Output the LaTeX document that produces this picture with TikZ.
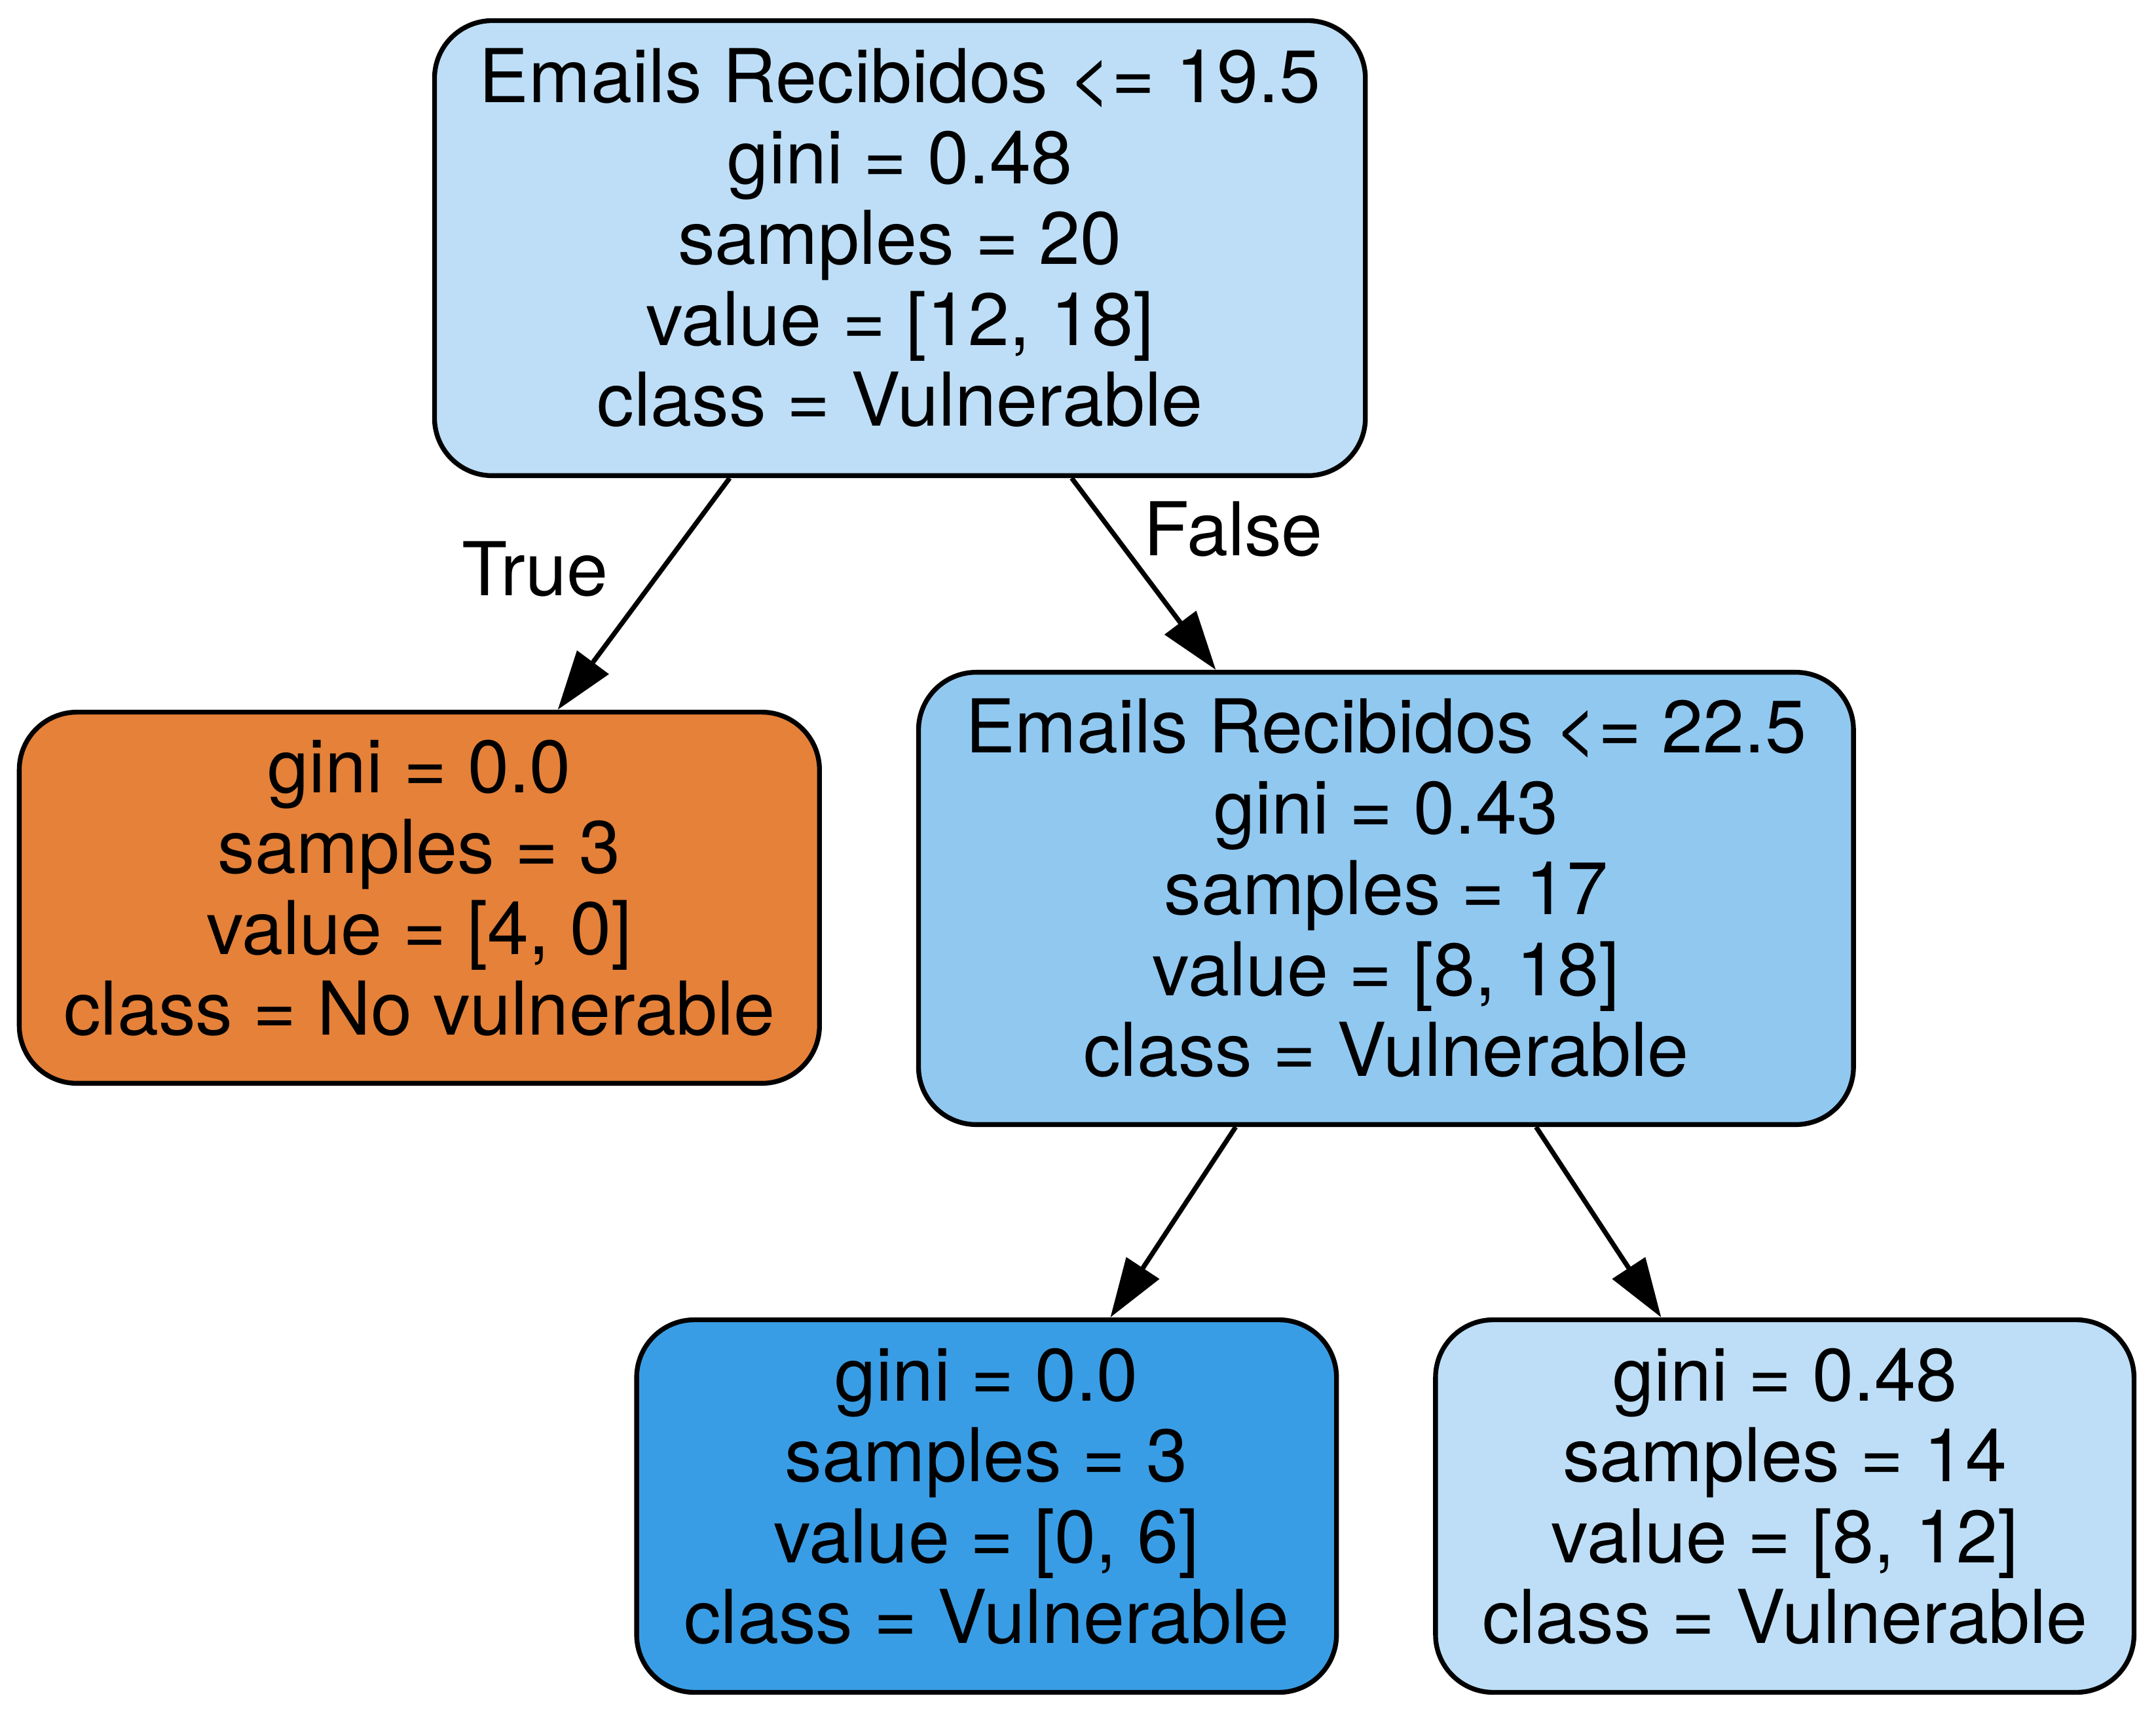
\documentclass[tikz,border=0pt]{standalone}
\usepackage{fontspec}
\setmainfont{TeX Gyre Heros}
\usetikzlibrary{arrows.meta}
\definecolor{lblue}{RGB}{189,222,246}
\definecolor{mblue}{RGB}{145,200,240}
\definecolor{dblue}{RGB}{57,157,229}
\definecolor{orng}{RGB}{229,129,57}
\newcommand\nodetext[1]{\raisebox{0.5pt}{\begin{tabular}{@{}c@{}}#1\end{tabular}}}
\begin{document}
\begin{tikzpicture}[x=1pt,y=-1pt,
  treenode/.style={draw=black, line width=3.5pt, rounded corners=42pt,
    font=\fontsize{54}{58.8}\selectfont, inner sep=0pt},
  edgelabel/.style={font=\fontsize{54}{58}\selectfont, inner sep=0pt},
  conn/.style={line width=3.5pt, -{Triangle[length=43pt,width=28pt]}}]
\useasboundingbox[fill=white] (0,0) rectangle (1568,1246);
\node[treenode, fill=lblue, minimum width=677pt, minimum height=331pt] (root) at (654.5,180.5)
  {\nodetext{Emails Recibidos <= 19.5\\gini = 0.48\\samples = 20\\value = [12, 18]\\class = Vulnerable}};
\node[treenode, fill=orng, minimum width=582pt, minimum height=270pt] (left) at (305,653)
  {\nodetext{gini = 0.0\\samples = 3\\value = [4, 0]\\class = No vulnerable}};
\node[treenode, fill=mblue, minimum width=680pt, minimum height=329pt] (mid) at (1008,653.5)
  {\nodetext{Emails Recibidos <= 22.5\\gini = 0.43\\samples = 17\\value = [8, 18]\\class = Vulnerable}};
\node[treenode, fill=dblue, minimum width=509pt, minimum height=271pt] (bl) at (717.5,1095.5)
  {\nodetext{gini = 0.0\\samples = 3\\value = [0, 6]\\class = Vulnerable}};
\node[treenode, fill=lblue, minimum width=508pt, minimum height=271pt] (br) at (1298,1095.5)
  {\nodetext{gini = 0.48\\samples = 14\\value = [8, 12]\\class = Vulnerable}};
\draw[conn] (root) -- (left);
\draw[conn] (root) -- (mid);
\draw[conn] (mid) -- (bl);
\draw[conn] (mid) -- (br);
\node[edgelabel] (ltrue) at (389,414) {True};
\node[edgelabel] (lfalse) at (897,385) {False};
\end{tikzpicture}
\end{document}
